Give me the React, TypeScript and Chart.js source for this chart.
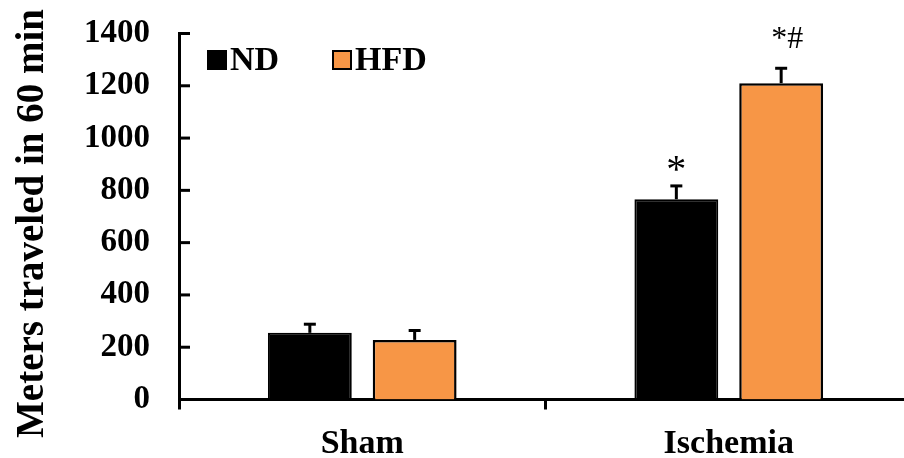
import React, { useEffect, useRef } from "react";
import { Chart, registerables } from "chart.js";

Chart.register(...registerables);

const categories = ["Sham", "Ischemia"];
const seriesNames = ["ND", "HFD"];
const ndValues = [255, 766];
const hfdValues = [228, 1210];
const ndErrors = [33, 51];
const hfdErrors = [36, 57];
const ndMarks = ["", "*"];
const hfdMarks = ["", "*#"];
const yTicks = [0, 200, 400, 600, 800, 1000, 1200, 1400];
const yTitle = "Meters traveled in 60 min";

const FONT = "'Liberation Serif', 'Times New Roman', serif";
const ORANGE = "#F79646";

const errorBarPlugin = {
  id: "errorBars",
  afterDatasetsDraw(chart: any) {
    const ctx = chart.ctx;
    const yScale = chart.scales.y;
    const errs = [ndErrors, hfdErrors];
    const marks = [ndMarks, hfdMarks];
    ctx.save();
    chart.data.datasets.forEach((ds: any, i: number) => {
      const meta = chart.getDatasetMeta(i);
      meta.data.forEach((el: any, j: number) => {
        const v = ds.data[j];
        const top = yScale.getPixelForValue(v + errs[i][j]);
        ctx.strokeStyle = "#000";
        ctx.lineWidth = 3;
        ctx.beginPath();
        ctx.moveTo(el.x, el.y);
        ctx.lineTo(el.x, top);
        ctx.stroke();
        ctx.beginPath();
        ctx.moveTo(el.x - 6, top);
        ctx.lineTo(el.x + 6, top);
        ctx.stroke();
        const m = marks[i][j];
        if (m) {
          ctx.fillStyle = "#000";
          ctx.textAlign = "center";
          ctx.textBaseline = "alphabetic";
          if (m === "*") {
            ctx.font = `40px ${FONT}`;
            ctx.fillText(m, el.x, top - 4);
          } else {
            ctx.font = `32px ${FONT}`;
            ctx.fillText(m, el.x + 6, top - 20);
          }
        }
      });
    });
    ctx.restore();
  },
  afterDraw(chart: any) {
    const ctx = chart.ctx;
    const yScale = chart.scales.y;
    const left = chart.chartArea.left;
    ctx.save();
    ctx.strokeStyle = "#000";
    ctx.lineWidth = 3;
    yTicks.forEach((t) => {
      const y = yScale.getPixelForValue(t);
      ctx.beginPath();
      ctx.moveTo(left, y);
      ctx.lineTo(left + 11, y);
      ctx.stroke();
    });
    // legend
    const boxX = [207, 332];
    ctx.font = `bold 34px ${FONT}`;
    ctx.textBaseline = "alphabetic";
    ctx.textAlign = "left";
    chart.data.datasets.forEach((ds: any, i: number) => {
      const x = boxX[i];
      ctx.fillStyle = ds.backgroundColor;
      ctx.fillRect(x, 50, 20, 20);
      ctx.lineWidth = 2;
      ctx.strokeStyle = "#000";
      ctx.strokeRect(x + 1, 51, 18, 18);
      ctx.fillStyle = "#000";
      ctx.fillText(ds.label, x + 23, 70);
    });
    // y axis title
    ctx.translate(43, 223.5);
    ctx.rotate(-Math.PI / 2);
    ctx.font = `bold 39px ${FONT}`;
    ctx.textAlign = "center";
    ctx.textBaseline = "alphabetic";
    ctx.fillStyle = "#000";
    ctx.fillText(yTitle, 0, 0);
    ctx.restore();
  },
};

export default function App() {
  const ref = useRef<HTMLCanvasElement>(null);
  useEffect(() => {
    if (!ref.current) return;
    const chart = new Chart(ref.current, {
      type: "bar",
      data: {
        labels: categories,
        datasets: [
          {
            label: seriesNames[0],
            data: ndValues,
            backgroundColor: "#000000",
            borderColor: "#000000",
            borderWidth: 2,
          },
          {
            label: seriesNames[1],
            data: hfdValues,
            backgroundColor: ORANGE,
            borderColor: "#000000",
            borderWidth: 2.5,
          },
        ],
      },
      options: {
        responsive: false,
        animation: false,
        layout: { padding: { top: 33.5, right: 8, left: 0, bottom: 0 } },
        plugins: {
          legend: { display: false },
          tooltip: { enabled: false },
        },
        datasets: {
          bar: { categoryPercentage: 0.572, barPercentage: 0.8 },
        },
        scales: {
          x: {
            offset: true,
            grid: {
              display: true,
              offset: true,
              drawOnChartArea: false,
              drawTicks: true,
              tickLength: 10,
              color: "#000",
              lineWidth: 3,
            },
            border: { display: true, color: "#000", width: 3 },
            ticks: {
              color: "#000",
              font: { family: FONT, size: 34, weight: "bold" },
              padding: 14,
            },
            afterFit: (s: any) => {
              s.height = 58.5;
              s.paddingLeft = 0;
              s.paddingRight = 0;
            },
          },
          y: {
            min: 0,
            max: 1400,
            grid: { display: false, drawTicks: false },
            border: { display: true, color: "#000", width: 3 },
            ticks: {
              stepSize: 200,
              color: "#000",
              padding: 29,
              font: { family: FONT, size: 33, weight: "bold" },
              callback: (v: any) => String(v),
            },
            title: { display: false },
            afterFit: (s: any) => {
              s.width = 179;
              s.paddingTop = 0;
              s.paddingBottom = 0;
            },
          },
        },
      },
      plugins: [errorBarPlugin],
    });
    return () => chart.destroy();
  }, []);
  return (
    <div
      style={{
        position: "fixed",
        left: 0,
        top: 0,
        width: 904,
        height: 458,
        overflow: "hidden",
        background: "#fff",
      }}
    >
      <canvas ref={ref} width={920} height={458} style={{ display: "block" }} />
    </div>
  );
}
